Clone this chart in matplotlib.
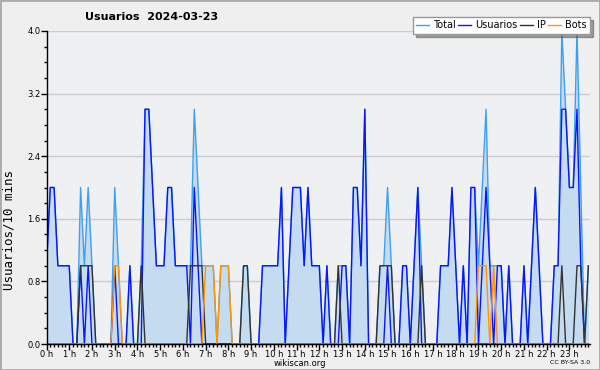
import numpy as np
import matplotlib
matplotlib.use("Agg")
import matplotlib.pyplot as plt
from matplotlib.patches import Rectangle

# one value per 10 minutes, 144 slots for the day
usuarios = [1, 2, 2, 1, 1, 1, 1, 0, 0, 1, 0, 1, 0, 0, 0, 0, 0, 0, 1, 0,
            0, 0, 1, 0, 0, 0, 3, 3, 2, 1, 1, 1, 2, 2, 1, 1, 1, 1, 0, 2,
            1, 0, 0, 0, 0, 0, 0, 0, 0, 0, 0, 0, 0, 0, 0, 0, 0, 1, 1, 1,
            1, 1, 2, 0, 1, 2, 2, 2, 1, 2, 1, 1, 1, 0, 1, 0, 0, 0, 1, 1,
            0, 2, 2, 1, 3, 0, 0, 0, 0, 0, 1, 0, 0, 0, 1, 1, 0, 1, 2, 0,
            0, 0, 0, 0, 1, 1, 1, 2, 1, 0, 1, 0, 2, 2, 0, 1, 2, 1, 0, 1,
            1, 0, 1, 0, 0, 0, 1, 0, 1, 2, 1, 0, 0, 0, 1, 1, 3, 3, 2, 2,
            3, 1, 0, 0]
ip = [0, 0, 0, 0, 0, 0, 0, 0, 0, 1, 1, 1, 1, 0, 0, 0, 0, 0, 0, 0,
      0, 0, 0, 0, 0, 1, 0, 0, 0, 0, 0, 0, 0, 0, 0, 0, 0, 0, 1, 1,
      1, 1, 0, 0, 0, 0, 0, 0, 0, 0, 0, 0, 1, 1, 0, 0, 0, 0, 0, 0,
      0, 0, 0, 0, 0, 0, 0, 0, 0, 0, 0, 0, 0, 0, 0, 0, 0, 1, 0, 0,
      0, 0, 0, 0, 0, 0, 0, 0, 1, 1, 1, 1, 0, 0, 0, 0, 0, 0, 0, 1,
      0, 0, 0, 0, 0, 0, 0, 0, 0, 0, 0, 0, 0, 0, 0, 0, 0, 0, 0, 0,
      0, 0, 0, 0, 0, 0, 0, 0, 0, 0, 0, 0, 0, 0, 0, 0, 1, 0, 0, 0,
      1, 1, 0, 1]
bots = [0, 0, 0, 0, 0, 0, 0, 0, 0, 0, 0, 0, 0, 0, 0, 0, 0, 0, 1, 1,
        0, 0, 0, 0, 0, 0, 0, 0, 0, 0, 0, 0, 0, 0, 0, 0, 0, 0, 0, 0,
        0, 0, 1, 1, 1, 0, 1, 1, 1, 0, 0, 0, 0, 0, 0, 0, 0, 0, 0, 0,
        0, 0, 0, 0, 0, 0, 0, 0, 0, 0, 0, 0, 0, 0, 0, 0, 0, 0, 0, 0,
        0, 0, 0, 0, 0, 0, 0, 0, 0, 0, 0, 0, 0, 0, 0, 0, 0, 0, 0, 0,
        0, 0, 0, 0, 0, 0, 0, 0, 0, 0, 0, 0, 0, 0, 1, 1, 1, 0, 1, 0,
        0, 0, 0, 0, 0, 0, 0, 0, 0, 0, 0, 0, 0, 0, 0, 0, 0, 0, 0, 0,
        0, 0, 0, 0]
total = [1, 2, 2, 1, 1, 1, 1, 0, 0, 2, 1, 2, 1, 0, 0, 0, 0, 0, 2, 1,
         0, 0, 1, 0, 0, 1, 3, 3, 2, 1, 1, 1, 2, 2, 1, 1, 1, 1, 1, 3,
         2, 1, 1, 1, 1, 0, 1, 1, 1, 0, 0, 0, 1, 1, 0, 0, 0, 1, 1, 1,
         1, 1, 2, 0, 1, 2, 2, 2, 1, 2, 1, 1, 1, 0, 1, 0, 0, 1, 1, 1,
         0, 2, 2, 1, 3, 0, 0, 0, 1, 1, 2, 1, 0, 0, 1, 1, 0, 1, 2, 1,
         0, 0, 0, 0, 1, 1, 1, 2, 1, 0, 1, 0, 2, 2, 1, 2, 3, 1, 1, 1,
         1, 0, 1, 0, 0, 0, 1, 0, 1, 2, 1, 0, 0, 0, 1, 1, 4, 3, 2, 2,
         4, 2, 0, 1]
hour_labels = [f"{h} h" for h in range(24)]
y_ticks = [0.0, 0.8, 1.6, 2.4, 3.2, 4.0]

hours = np.arange(len(total)) / 6.0

plt.rcParams['font.family'] = 'DejaVu Sans'
fig = plt.figure(figsize=(6, 3.7), dpi=100, facecolor='#efefef')
ax = fig.add_axes([46.5 / 600, 1 - 344 / 370, 543 / 600, 313 / 370])
ax.set_facecolor('#eff0f2')

ax.fill_between(hours, total, 0, color='#c5dcf0', lw=0)
ax.plot(hours, total, color='#3da0f0', lw=1, label='Total')
ax.plot(hours, usuarios, color='#0a14ff', lw=1, label='Usuarios')
ax.plot(hours, ip, color='#333333', lw=1, label='IP')
ax.plot(hours, bots, color='#ff9500', lw=1, label='Bots')

ax.set_xlim(0, hours[-1] + 0.05)
ax.set_ylim(0, 4.0)
ax.set_yticks(y_ticks)
ax.set_yticklabels([f"{v:.1f}" for v in y_ticks])
ax.set_yticks(np.arange(0, 4.01, 0.2), minor=True)
ax.set_xticks(range(24))
ax.set_xticklabels(hour_labels)
ax.set_xticks(hours, minor=True)
ax.tick_params(axis='both', which='major', labelsize=6, length=4, width=1, pad=0.5)
ax.tick_params(axis='x', which='major', pad=0)
ax.tick_params(axis='both', which='minor', length=2.5, width=1)
ax.grid(axis='y', color='#cccccc', lw=1)
ax.set_axisbelow(True)
for s in ['top', 'right']:
    ax.spines[s].set_visible(False)
ax.spines['left'].set_linewidth(1)
ax.spines['bottom'].set_linewidth(1)

fig.text(9 / 600, 1 - 230 / 370, 'Usuarios/10 mins', family='DejaVu Sans Mono', fontsize=9,
         rotation=90, ha='center', va='center')
fig.text(85 / 600, 1 - 17 / 370, 'Usuarios  2024-03-23', fontsize=8, fontweight='bold',
         ha='left', va='center')

leg = fig.legend(loc='upper right', bbox_to_anchor=(590 / 600, 1 - 17 / 370), ncol=4,
                 fontsize=7, frameon=True, fancybox=False, shadow=True,
                 handlelength=1.3, handletextpad=0.4, columnspacing=0.3,
                 borderpad=0.35, borderaxespad=0)
leg.get_frame().set_edgecolor('#999999')
leg.get_frame().set_facecolor('white')

fig.text(300 / 600, 1 - 363 / 370, 'wikiscan.org', fontsize=6, ha='center', va='center')
fig.text(590 / 600, 1 - 363 / 370, 'CC BY-SA 3.0', fontsize=4.5, ha='right', va='center')
fig.patches.append(Rectangle((0, 0), 1, 1, transform=fig.transFigure, fill=False,
                             edgecolor='#aaaaaa', lw=2))

fig.savefig('out.png', dpi=100, facecolor=fig.get_facecolor())
